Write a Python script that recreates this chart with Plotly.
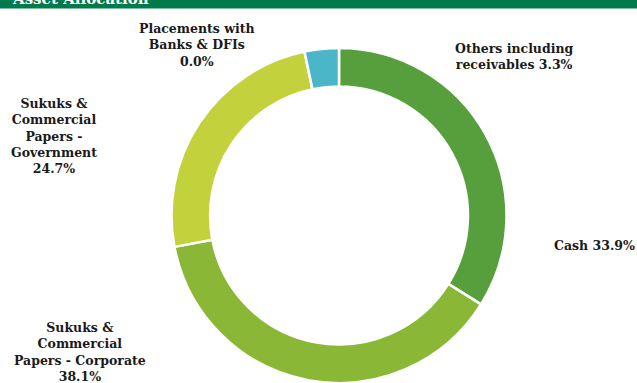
import plotly.graph_objects as go

# Asset allocation of the fund (percent of net assets)
labels = [
    "Cash",
    "Sukuks & Commercial Papers - Corporate",
    "Sukuks & Commercial Papers - Government",
    "Placements with Banks & DFIs",
    "Others including receivables",
]
values = [33.9, 38.1, 24.7, 0.0, 3.3]
colors = ["#569F3C", "#8AB836", "#C3D13C", "#4BB6C7", "#4BB6C7"]

# Multi-line label text, one per slice (value appended below)
label_lines = [
    "Cash {v:.1f}%",
    "Sukuks &<br>Commercial<br>Papers - Corporate<br>{v:.1f}%",
    "Sukuks &<br>Commercial<br>Papers -<br>Government<br>{v:.1f}%",
    "Placements with<br>Banks & DFIs<br>{v:.1f}%",
    "Others including<br>receivables {v:.1f}%",
]
# label anchor points in pixels (x from left, y from top)
label_pos = [(594, 245), (80, 352), (54, 136), (197, 45), (514, 57)]

W, H = 637, 383
FONT = "DejaVu Serif"

fig = go.Figure()
fig.add_trace(go.Pie(
    labels=labels,
    values=values,
    hole=0.77,
    sort=False,
    direction="clockwise",
    rotation=0,
    marker=dict(colors=colors, line=dict(color="white", width=2.5)),
    textinfo="none",
    hoverinfo="label+percent",
    showlegend=False,
    domain=dict(x=[(339 - 167.5) / W, (339 + 167.5) / W], y=[0, 335 / H]),
))

annotations = []
for tmpl, v, (px, py) in zip(label_lines, values, label_pos):
    annotations.append(dict(
        text="<b>" + tmpl.format(v=v) + "</b>",
        x=px / W, y=1 - py / H, xref="paper", yref="paper",
        xanchor="center", yanchor="middle", showarrow=False, align="center",
        font=dict(family=FONT, size=12.5, color="#1a1a1a"),
    ))

# header title, partly above the top edge
annotations.append(dict(
    text="<b>Asset Allocation</b>",
    x=10 / W, y=1 - 10 / H, xref="paper", yref="paper",
    xanchor="left", yanchor="bottom", showarrow=False,
    font=dict(family=FONT, size=15, color="white"),
))

fig.update_layout(
    width=W, height=H,
    margin=dict(l=0, r=0, t=0, b=0),
    paper_bgcolor="white", plot_bgcolor="white",
    annotations=annotations,
    shapes=[dict(type="rect", xref="paper", yref="paper",
                 x0=0, x1=1, y0=1 - 8.5 / H, y1=1.05,
                 fillcolor="#007A4A", line=dict(width=0), layer="below")],
)

fig.write_html("out.html")
